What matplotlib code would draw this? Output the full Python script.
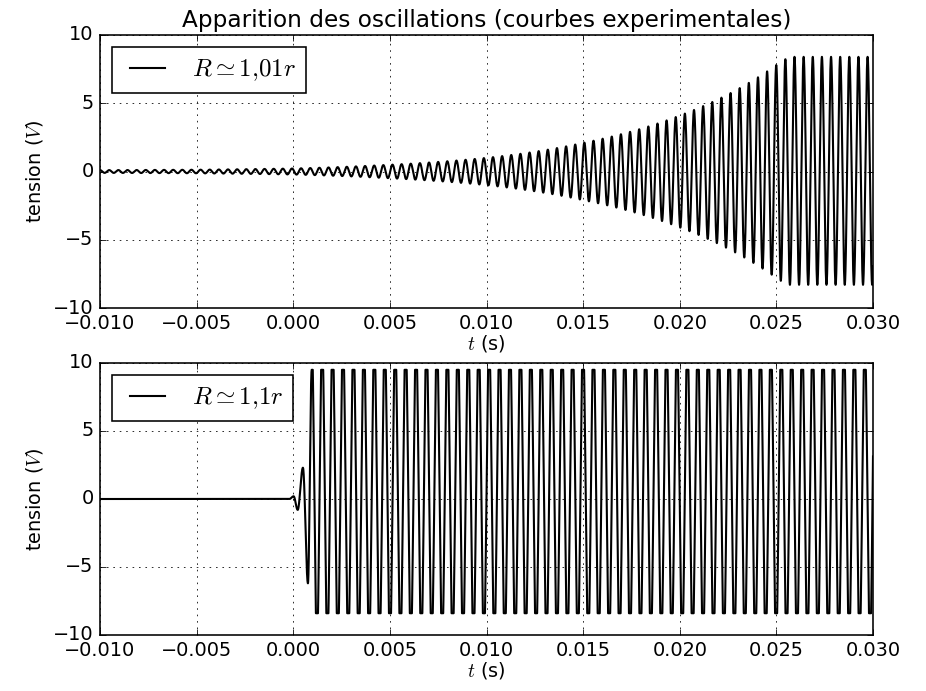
import numpy as np
import matplotlib
matplotlib.use("Agg")
import matplotlib.pyplot as plt

plt.style.use("classic")

# ---------------- data ----------------
title = "Apparition des oscillations (courbes experimentales)"
labels = [r"$R\simeq 1{,}01r$", r"$R\simeq 1{,}1r$"]
xticks = [-0.010, -0.005, 0.000, 0.005, 0.010, 0.015, 0.020, 0.025, 0.030]
yticks = [-10, -5, 0, 5, 10]

# top curve: envelope of the growing oscillation (peak amplitude, V)
env_t_top = [-0.010, -0.005, 0.000, 0.0045, 0.010, 0.015, 0.020, 0.025, 0.0257, 0.030]
env_v_top = [0.10, 0.13, 0.22, 0.46, 1.0, 2.1, 4.1, 7.8, 8.45, 8.45]
sat_pos_top = 8.4
sat_neg_top = -8.3
freq_top = 2115.0          # Hz
peak_t_top = 0.02972       # time of a positive peak

# bottom curve: start-up extrema, then saturated oscillation
start_t_bot = [-0.010, -0.0002, 0.00002, 0.00023, 0.0005, 0.00076, 0.000955]
start_v_bot = [0.0, 0.0, 0.2, -0.8, 2.3, -6.2, 9.5]
high_bot = 9.5
low_bot = -8.4
period_bot = 0.00054       # s

# ---------------- build the signals ----------------
t = np.linspace(-0.010, 0.030, 40001)

env = np.exp(np.interp(t, env_t_top, np.log(env_v_top)))
s = np.cos(2 * np.pi * freq_top * (t - peak_t_top))
v_top = np.where(s > 0, np.minimum(env, sat_pos_top) * s,
                 np.minimum(env, -sat_neg_top) * s)

v_bot = np.zeros_like(t)
for i in range(len(start_t_bot) - 1):
    t0, t1 = start_t_bot[i], start_t_bot[i + 1]
    a, b = start_v_bot[i], start_v_bot[i + 1]
    m = (t >= t0) & (t < t1)
    ph = (t[m] - t0) / (t1 - t0)
    v_bot[m] = a + (b - a) * (1 - np.cos(np.pi * ph)) / 2
m = t >= start_t_bot[-1]
mid = (high_bot + low_bot) / 2
amp = (high_bot - low_bot) / 2 * 1.25
v_bot[m] = np.clip(mid + amp * np.cos(2 * np.pi * (t[m] - start_t_bot[-1]) / period_bot),
                   low_bot, high_bot)

# ---------------- figure ----------------
dpi = 115.5
fig = plt.figure(figsize=(926 / dpi, 691 / dpi), dpi=dpi, facecolor="white")
ax1 = fig.add_axes([100 / 926, 1 - 308 / 691, 773 / 926, 273 / 691])
ax2 = fig.add_axes([100 / 926, 1 - 635 / 691, 773 / 926, 272 / 691])

for ax, v, lab in [(ax1, v_top, labels[0]), (ax2, v_bot, labels[1])]:
    ax.plot(t, v, color="k", lw=1.3, label=lab)
    ax.set_xlim(-0.010, 0.030)
    ax.set_ylim(-10, 10)
    ax.set_xticks(xticks)
    ax.set_yticks(yticks)
    ax.grid(True)
    ax.set_xlabel(r"$t$ (s)", labelpad=0)
    ax.set_ylabel(r"tension ($V$)")
    ax.legend(loc="upper left", fontsize=15.5)

ax1.set_title(title, fontsize=14.4)

fig.savefig("out.png", dpi=dpi, facecolor="white")
